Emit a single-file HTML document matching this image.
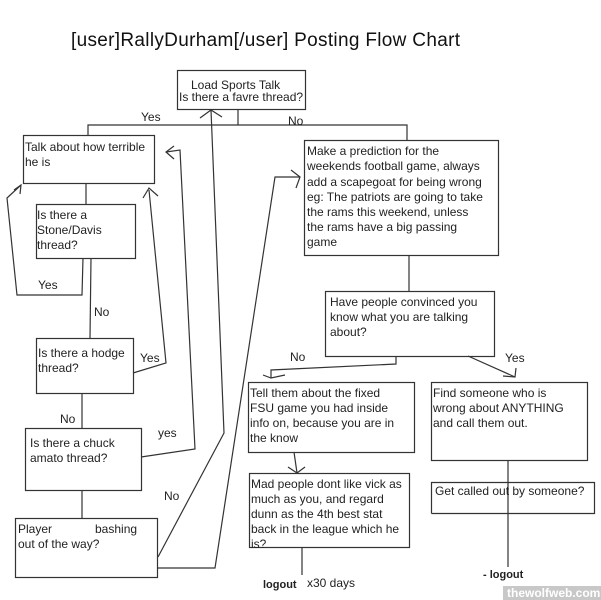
<!DOCTYPE html>
<html><head><meta charset="utf-8"><style>
html,body{margin:0;padding:0;background:#fff}
svg{display:block}
text{font-family:"Liberation Sans",Arial,sans-serif;fill:#222;font-size:12px}
.b{font-weight:bold;font-size:11px}
</style></head><body>
<svg width="601" height="600" viewBox="0 0 601 600" xmlns="http://www.w3.org/2000/svg">
<rect width="601" height="600" fill="#fff"/>
<text x="71" y="46" style="font-size:19px;fill:#111" textLength="389">[user]RallyDurham[/user] Posting Flow Chart</text>
<g fill="none" stroke="#333" stroke-width="1.2">
<rect x="177.5" y="70.5" width="128" height="39"/>
<rect x="23.5" y="135.5" width="131" height="48"/>
<rect x="36.5" y="204.5" width="99" height="54"/>
<rect x="36.5" y="338.5" width="97" height="55"/>
<rect x="25.5" y="428.5" width="116" height="62"/>
<rect x="15.5" y="518.5" width="142" height="59"/>
<rect x="304.5" y="140.5" width="194" height="115"/>
<rect x="325.5" y="291.5" width="169" height="65"/>
<rect x="248.5" y="382.5" width="166" height="70"/>
<rect x="249.5" y="473.5" width="160" height="74"/>
<rect x="431.5" y="382.5" width="156" height="78"/>
<polyline points="431.5,513.5 431.5,482.5 594.5,482.5 594.5,513.5 431.5,513.5"/>
<polyline points="238,109 238,125"/>
<polyline points="88,135 88,125 407,125 407,140"/>
<line x1="86" y1="183" x2="86" y2="204"/>
<polyline points="83,258 82,295 17,295 7,198 21,185"/>
<polyline points="14,190 21,185 20,194"/>
<polyline points="91,258 90,338"/>
<polyline points="133,373 166,363 149,190"/>
<polyline points="143,198 149,188 158,196"/>
<line x1="82" y1="393" x2="82" y2="428"/>
<polyline points="141,457 195,449 180,150 166,152"/>
<polyline points="174,146 166,152 174,159"/>
<line x1="82" y1="490" x2="82" y2="518"/>
<polyline points="158,557 224,433 211,110"/>
<polyline points="200,118 211,110 222,117"/>
<polyline points="157,568 215,568 275,177 300,177"/>
<polyline points="291,170 300,177 296,188"/>
<line x1="409" y1="255" x2="409" y2="291"/>
<polyline points="396,356 396,364 271,370 271,378"/>
<polyline points="263,375 271,378 285,375"/>
<polyline points="468,356 515,377"/>
<polyline points="503,376 515,377 516,368"/>
<line x1="294" y1="452" x2="297" y2="473"/>
<polyline points="288,467 297,473 305,467"/>
<line x1="302" y1="547" x2="302" y2="575"/>
<line x1="508" y1="460" x2="508" y2="567"/>
</g>
<text x="191" y="89">Load Sports Talk</text>
<text x="179" y="101">Is there a favre thread?</text>
<text x="141" y="121">Yes</text>
<text x="288" y="125">No</text>
<text x="25" y="151">Talk about how terrible</text>
<text x="25" y="166">he is</text>
<text x="37" y="219">Is there a</text>
<text x="37" y="234">Stone/Davis</text>
<text x="37" y="249">thread?</text>
<text x="38" y="289">Yes</text>
<text x="94" y="316">No</text>
<text x="38" y="357">Is there a hodge</text>
<text x="38" y="372">thread?</text>
<text x="140" y="362">Yes</text>
<text x="60" y="423">No</text>
<text x="30" y="447">Is there a chuck</text>
<text x="30" y="462">amato thread?</text>
<text x="158" y="437">yes</text>
<text x="164" y="500">No</text>
<text x="18" y="533">Player</text>
<text x="95" y="533">bashing</text>
<text x="18" y="548">out of the way?</text>
<text x="307" y="155">Make a prediction for the</text>
<text x="307" y="170">weekends football game, always</text>
<text x="307" y="186">add a scapegoat for being wrong</text>
<text x="307" y="201">eg: The patriots are going to take</text>
<text x="307" y="216">the rams this weekend, unless</text>
<text x="307" y="231">the rams have a big passing</text>
<text x="307" y="246">game</text>
<text x="330" y="306">Have people convinced you</text>
<text x="330" y="321">know what you are talking</text>
<text x="330" y="336">about?</text>
<text x="290" y="361">No</text>
<text x="505" y="362">Yes</text>
<text x="250" y="397">Tell them about the fixed</text>
<text x="250" y="412">FSU game you had inside</text>
<text x="250" y="427">info on, because you are in</text>
<text x="250" y="442">the know</text>
<text x="251" y="488">Mad people dont like vick as</text>
<text x="251" y="503">much as you, and regard</text>
<text x="251" y="518">dunn as the 4th best stat</text>
<text x="251" y="533">back in the league which he</text>
<text x="251" y="548">is?</text>
<text x="433" y="397">Find someone who is</text>
<text x="433" y="412">wrong about ANYTHING</text>
<text x="433" y="427">and call them out.</text>
<text x="435" y="495">Get called out by someone?</text>
<text class="b" x="263" y="588">logout</text>
<text x="307" y="587">x30 days</text>
<text class="b" x="483" y="578">- logout</text>
<rect x="503" y="586" width="98" height="14" fill="#c8c8c8"/>
<text x="507" y="597" style="font-size:12px;font-weight:bold;fill:#fff">thewolfweb.com</text>
</svg>
</body></html>
